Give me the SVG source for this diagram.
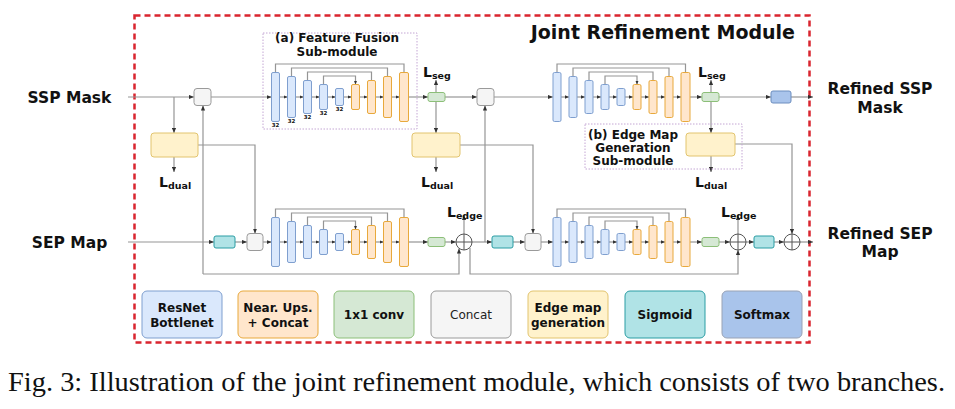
<svg xmlns="http://www.w3.org/2000/svg" xmlns:xlink="http://www.w3.org/1999/xlink" width="955" height="409" viewBox="0 0 955 409">
<style>
.t{font-family:"DejaVu Sans",Verdana,sans-serif;font-weight:bold;fill:#111}
.ln{fill:none;stroke:#959595;stroke-width:1.2}
.bl{fill:#dae8fc;stroke:#7f9fcf;stroke-width:1}
.or{fill:#ffe6cc;stroke:#e8a93c;stroke-width:1}
.gr{fill:#d5e8d4;stroke:#8cbf78;stroke-width:1}
.cc{fill:#f5f5f5;stroke:#9a9a9a;stroke-width:1}
.em{fill:#fff2cc;stroke:#e2c46e;stroke-width:1}
.sg{fill:#b0e3e6;stroke:#2a9da4;stroke-width:1}
.sm{fill:#a9c4eb;stroke:#6c8ebf;stroke-width:1}
.sub{fill:none;stroke:#c4a6d4;stroke-width:1;stroke-dasharray:1.5 1.5}
.pl{fill:#fff;stroke:#555;stroke-width:1}
</style>
<defs>
<marker id="a" viewBox="0 0 6 6" refX="6" refY="3" markerWidth="5" markerHeight="5" orient="auto" markerUnits="userSpaceOnUse"><path d="M0,0.5 L6,3 L0,5.5z" fill="#333"/></marker>
<marker id="s" viewBox="0 0 6 6" refX="6" refY="3" markerWidth="4" markerHeight="4" orient="auto" markerUnits="userSpaceOnUse"><path d="M0,0.5 L6,3 L0,5.5z" fill="#333"/></marker>
<g id="unet">
<path class="ln" marker-end="url(#s)" d="M4,-24.5 V-33 H132.5 V-24.5 M20,-20.5 V-29 H116 V-20.5 M36,-16.5 V-25 H100 V-16.5 M52,-12.5 V-21 H84 V-12.5"/>
<path class="ln" marker-end="url(#s)" d="M8,0 H16"/><path class="ln" marker-end="url(#s)" d="M24,0 H32"/>
<path class="ln" marker-end="url(#s)" d="M40,0 H48"/><path class="ln" marker-end="url(#s)" d="M56,0 H64"/>
<path class="ln" marker-end="url(#s)" d="M72,0 H80"/><path class="ln" marker-end="url(#s)" d="M88,0 H96"/>
<path class="ln" marker-end="url(#s)" d="M104,0 H112"/><path class="ln" marker-end="url(#s)" d="M120,0 H128"/>
<rect class="bl" x="0" y="-24.5" width="8" height="49" rx="1.5"/>
<rect class="bl" x="16" y="-20.5" width="8" height="41" rx="1.5"/>
<rect class="bl" x="32" y="-16.5" width="8" height="33" rx="1.5"/>
<rect class="bl" x="48" y="-12.5" width="8" height="25" rx="1.5"/>
<rect class="bl" x="64" y="-8.5" width="8" height="17" rx="1.5"/>
<rect class="or" x="80" y="-12.5" width="8" height="25" rx="1.5"/>
<rect class="or" x="96" y="-16.5" width="8" height="33" rx="1.5"/>
<rect class="or" x="112" y="-20.5" width="8" height="41" rx="1.5"/>
<rect class="or" x="128" y="-24.5" width="9" height="49" rx="1.5"/>
</g>
</defs>
<rect width="955" height="409" fill="#fff"/>
<rect x="134.5" y="15.5" width="675" height="327" fill="none" stroke="#d9252f" stroke-width="2.5" stroke-dasharray="6 4"/>
<text class="t" x="795" y="39" font-size="19" text-anchor="end">Joint Refinement Module</text>

<g id="connectors">
<path class="ln" marker-end="url(#a)" d="M128,97 H194"/>
<path class="ln" marker-end="url(#a)" d="M211,97 H271.5"/>
<path class="ln" marker-end="url(#a)" d="M408.5,97 H428"/>
<path class="ln" marker-end="url(#a)" d="M445,97 H477"/>
<path class="ln" marker-end="url(#a)" d="M494,97 H553"/>
<path class="ln" marker-end="url(#a)" d="M690,97 H702"/>
<path class="ln" marker-end="url(#a)" d="M719,97 H771"/>
<path class="ln" marker-end="url(#a)" d="M791,97 H813"/>
<path class="ln" marker-end="url(#a)" d="M174,97 V133"/>
<path class="ln" marker-end="url(#a)" d="M436,92 V80"/>
<path class="ln" marker-end="url(#a)" d="M436,101 V133"/>
<path class="ln" marker-end="url(#a)" d="M711,92 V80"/>
<path class="ln" marker-end="url(#a)" d="M711,101 V133"/>
<path class="ln" marker-end="url(#a)" d="M174,157 V172"/>
<path class="ln" marker-end="url(#a)" d="M436,157 V172"/>
<path class="ln" marker-end="url(#a)" d="M711,156 V172"/>
<path class="ln" marker-end="url(#a)" d="M198,145 H255 V233.5"/>
<path class="ln" marker-end="url(#a)" d="M460,145 H533 V233.5"/>
<path class="ln" marker-end="url(#a)" d="M735,144 H792 V234"/>
<path class="ln" marker-end="url(#a)" d="M128,242 H214"/>
<path class="ln" marker-end="url(#a)" d="M235,242 H247"/>
<path class="ln" marker-end="url(#a)" d="M263,242 H271.5"/>
<path class="ln" marker-end="url(#a)" d="M408.5,242 H428"/>
<path class="ln" marker-end="url(#a)" d="M445,242 H456"/>
<path class="ln" marker-end="url(#a)" d="M472,242 H492"/>
<path class="ln" marker-end="url(#a)" d="M513,242 H525"/>
<path class="ln" marker-end="url(#a)" d="M541,242 H553"/>
<path class="ln" marker-end="url(#a)" d="M690,242 H702"/>
<path class="ln" marker-end="url(#a)" d="M719,242 H730"/>
<path class="ln" marker-end="url(#a)" d="M746,242 H754"/>
<path class="ln" marker-end="url(#a)" d="M774,242 H784"/>
<path class="ln" marker-end="url(#a)" d="M800,242 H813"/>
<path class="ln" marker-end="url(#a)" d="M464,234 V215"/>
<path class="ln" marker-end="url(#a)" d="M738,234 V215"/>
<path class="ln" marker-end="url(#a)" d="M203,274 V105.5"/>
<path class="ln" marker-end="url(#a)" d="M203,274 H459 V248.5"/>
<path class="ln" marker-end="url(#a)" d="M470,248 V274 H738 V250"/>
<path class="ln" marker-end="url(#a)" d="M485,242 V105.5"/>
</g>

<g id="submodule-a"><rect class="sub" x="263" y="33" width="154" height="96"/>
<text class="t" x="337" y="42" font-size="12" text-anchor="middle">(a) Feature Fusion</text>
<text class="t" x="337" y="56" font-size="12" text-anchor="middle">Sub-module</text></g>
<g id="submodule-b"><rect class="sub" x="585" y="124" width="157" height="45"/>
<text class="t" x="633" y="139" font-size="12" text-anchor="middle">(b) Edge Map</text>
<text class="t" x="633" y="152" font-size="12" text-anchor="middle">Generation</text>
<text class="t" x="633" y="165" font-size="12" text-anchor="middle">Sub-module</text></g>

<g id="unet1-top"><use xlink:href="#unet" transform="translate(271.5,97)"/>
<g class="t" font-size="5.5" text-anchor="middle"><text x="275.5" y="127">32</text><text x="291.5" y="123">32</text><text x="307.5" y="119">32</text><text x="323.5" y="115">32</text><text x="339.5" y="111">32</text></g></g>
<g id="unet1-bottom"><use xlink:href="#unet" transform="translate(271.5,242)"/></g>
<g id="unet2-top"><use xlink:href="#unet" transform="translate(553,97)"/></g>
<g id="unet2-bottom"><use xlink:href="#unet" transform="translate(553,242)"/></g>

<g id="concat1"><rect class="cc" x="194" y="88.5" width="17" height="17" rx="3"/></g>
<g id="concat2"><rect class="cc" x="477" y="88.5" width="17" height="17" rx="3"/></g>
<g id="concat3"><rect class="cc" x="247" y="233.5" width="16" height="17" rx="3"/></g>
<g id="concat4"><rect class="cc" x="525" y="233.5" width="16" height="17" rx="3"/></g>
<g id="sigmoid1"><rect class="sg" x="214" y="236" width="21" height="12" rx="2"/></g>
<g id="sigmoid2"><rect class="sg" x="492" y="236" width="21" height="12" rx="2"/></g>
<g id="sigmoid3"><rect class="sg" x="754" y="236" width="20" height="12" rx="2"/></g>
<g id="conv1"><rect class="gr" x="428" y="92.5" width="17" height="9" rx="2"/></g>
<g id="conv2"><rect class="gr" x="702" y="92.5" width="17" height="9" rx="2"/></g>
<g id="conv3"><rect class="gr" x="428" y="237.5" width="17" height="9" rx="2"/></g>
<g id="conv4"><rect class="gr" x="702" y="237.5" width="17" height="9" rx="2"/></g>
<g id="softmax1"><rect class="sm" x="771" y="91" width="20" height="12" rx="2"/></g>
<g id="edge1"><rect class="em" x="151" y="133" width="47" height="24" rx="3"/></g>
<g id="edge2"><rect class="em" x="412" y="133" width="48" height="24" rx="3"/></g>
<g id="edge3"><rect class="em" x="686" y="133" width="49" height="23" rx="3"/></g>
<g id="add1"><circle class="pl" cx="464" cy="242" r="8"/><path class="pl" d="M456,242 H472 M464,234 V250"/></g>
<g id="add2"><circle class="pl" cx="738" cy="242" r="8"/><path class="pl" d="M730,242 H746 M738,234 V250"/></g>
<g id="add3"><circle class="pl" cx="792" cy="242" r="8"/><path class="pl" d="M784,242 H800 M792,234 V250"/></g>

<g id="losses" class="t" font-size="14">
<text x="423" y="77">L<tspan font-size="9.5" dy="2">seg</tspan></text>
<text x="698" y="77">L<tspan font-size="9.5" dy="2">seg</tspan></text>
<text x="159" y="187">L<tspan font-size="9.5" dy="1.5">dual</tspan></text>
<text x="421" y="187">L<tspan font-size="9.5" dy="1.5">dual</tspan></text>
<text x="695" y="187">L<tspan font-size="9.5" dy="1.5">dual</tspan></text>
<text x="447" y="217">L<tspan font-size="9.5" dy="2">edge</tspan></text>
<text x="721" y="217">L<tspan font-size="9.5" dy="2">edge</tspan></text>
</g>

<g id="io" class="t" font-size="15.5" text-anchor="middle">
<text x="69.5" y="103">SSP Mask</text>
<text x="69.5" y="248">SEP Map</text>
<text x="880" y="94">Refined SSP</text><text x="880" y="113">Mask</text>
<text x="880" y="239">Refined SEP</text><text x="880" y="257">Map</text>
</g>

<g id="legend" class="t" font-size="12" text-anchor="middle">
<rect class="bl" x="142" y="291" width="80" height="47" rx="5"/>
<text x="182" y="312">ResNet</text><text x="182" y="327">Bottlenet</text>
<rect class="or" x="238" y="291" width="80" height="47" rx="5"/>
<text x="278" y="312">Near. Ups.</text><text x="278" y="327">+ Concat</text>
<rect class="gr" x="334" y="291" width="80" height="47" rx="5"/>
<text x="374" y="319">1x1 conv</text>
<rect class="cc" x="431" y="291" width="80" height="47" rx="5"/>
<text x="471" y="319" font-weight="normal" fill="#222">Concat</text>
<rect class="em" x="528" y="291" width="80" height="47" rx="5"/>
<text x="568" y="312">Edge map</text><text x="568" y="327">generation</text>
<rect class="sg" x="625" y="291" width="80" height="47" rx="5"/>
<text x="665" y="319">Sigmoid</text>
<rect fill="#a9c4eb" stroke="#9aa3b5" x="722" y="291" width="80" height="47" rx="5"/>
<text x="762" y="319">Softmax</text>
</g>

<text x="8" y="391" font-family="'Liberation Serif',serif" font-size="27" textLength="937" lengthAdjust="spacingAndGlyphs" fill="#111">Fig. 3: Illustration of the joint refinement module, which consists of two branches.</text>
</svg>
